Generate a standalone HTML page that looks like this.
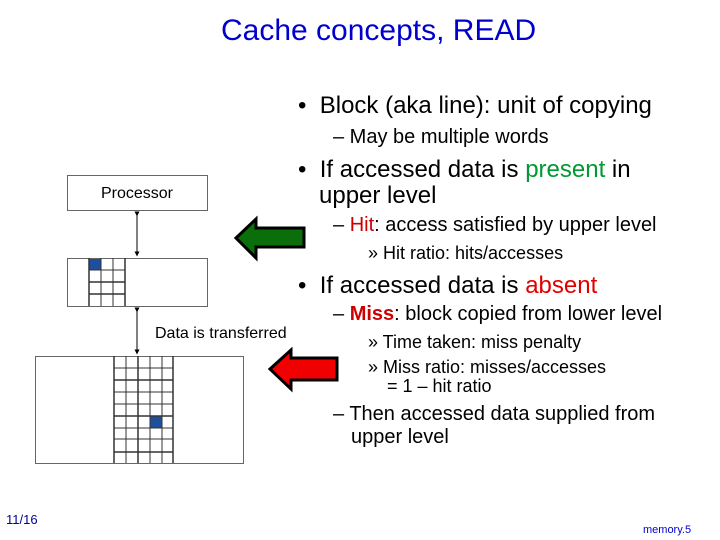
<!DOCTYPE html>
<html><head><style>
body{margin:0;width:720px;height:540px;background:#fff;position:relative;overflow:hidden;font-family:"Liberation Sans",sans-serif;}
.t{position:absolute;white-space:nowrap;color:#000;}
.r{color:#cc0000}
</style></head><body>
<svg width="720" height="540" style="position:absolute;left:0;top:0">
<defs><marker id="a" markerWidth="5" markerHeight="5" refX="2.5" refY="2.5" orient="auto"><path d="M0,0L5,2.5L0,5z" fill="#000"/></marker></defs>
<rect x="67.5" y="175.5" width="140" height="35" fill="#fff" stroke="#666"/>
<text x="137" y="198" font-family="Liberation Sans" font-size="16" text-anchor="middle">Processor</text>
<line x1="137" y1="214" x2="137" y2="254" stroke="#000" marker-start="url(#a)" marker-end="url(#a)"/>
<rect x="67.5" y="258.5" width="140" height="48" fill="#fff" stroke="#666"/>
<rect x="89" y="259" width="12" height="11" fill="#1f4e9c"/>
<g stroke="#333">
<line x1="89" y1="258" x2="89" y2="306" stroke-width="1.5"/><line x1="101" y1="258" x2="101" y2="306"/><line x1="113" y1="258" x2="113" y2="306"/><line x1="125" y1="258" x2="125" y2="306" stroke-width="1.5"/>
<line x1="89" y1="270" x2="125" y2="270"/><line x1="89" y1="282" x2="125" y2="282" stroke-width="1.5"/><line x1="89" y1="294" x2="125" y2="294" stroke-width="1.5"/>
</g>
<line x1="137" y1="310" x2="137" y2="352" stroke="#000" marker-start="url(#a)" marker-end="url(#a)"/>
<text x="155" y="338" font-family="Liberation Sans" font-size="16">Data is transferred</text>
<rect x="35.5" y="356.5" width="208" height="107" fill="#fff" stroke="#666"/>
<rect x="150" y="416" width="12" height="12" fill="#1f4e9c"/>
<g stroke="#333">
<line x1="114" y1="356" x2="114" y2="463" stroke-width="1.5"/><line x1="126" y1="356" x2="126" y2="463"/><line x1="138" y1="356" x2="138" y2="463" stroke-width="1.5"/><line x1="150" y1="356" x2="150" y2="463"/><line x1="162" y1="356" x2="162" y2="463"/><line x1="173" y1="356" x2="173" y2="463" stroke-width="1.5"/>
<line x1="114" y1="368" x2="173" y2="368"/><line x1="114" y1="380" x2="173" y2="380" stroke-width="1.5"/><line x1="114" y1="392" x2="173" y2="392"/><line x1="114" y1="404" x2="173" y2="404"/><line x1="114" y1="416" x2="173" y2="416" stroke-width="1.5"/><line x1="114" y1="428" x2="173" y2="428"/><line x1="114" y1="439" x2="173" y2="439"/><line x1="114" y1="452" x2="173" y2="452" stroke-width="1.5"/>
</g>
<path d="M236,238 L256,219 L256,228 L304,228 L304,247 L256,247 L256,258 Z" fill="#0a6e0a" stroke="#000" stroke-width="3" stroke-linejoin="miter"/>
<path d="M270,369 L291,350 L291,358 L337,358 L337,380 L291,380 L291,389 Z" fill="#f00000" stroke="#000" stroke-width="3"/>
</svg>
<div class="t" style="left:221px;top:14px;font-size:30px;color:#0000cc">Cache concepts, READ</div>
<div class="t" style="left:298px;top:92px;font-size:24px">•&nbsp; Block (aka line): unit of copying</div>
<div class="t" style="left:333px;top:126px;font-size:20px">– May be multiple words</div>
<div class="t" style="left:298px;top:157px;font-size:24px;line-height:26px">•&nbsp; If accessed data is <span style="color:#009933">present</span> in</div>
<div class="t" style="left:319px;top:183px;font-size:24px;line-height:26px">upper level</div>
<div class="t" style="left:333px;top:214px;font-size:20px">– <span class="r">Hit</span>: access satisfied by upper level</div>
<div class="t" style="left:368px;top:243px;font-size:18px">» Hit ratio: hits/accesses</div>
<div class="t" style="left:298px;top:272px;font-size:24px">•&nbsp; If accessed data is <span style="color:#e00000">absent</span></div>
<div class="t" style="left:333px;top:303px;font-size:20px">– <b class="r">Miss</b>: block copied from lower level</div>
<div class="t" style="left:368px;top:332px;font-size:18px">» Time taken: miss penalty</div>
<div class="t" style="left:368px;top:358px;font-size:18px;line-height:19px">» Miss ratio: misses/accesses</div>
<div class="t" style="left:387px;top:377px;font-size:18px;line-height:19px">= 1 – hit ratio</div>
<div class="t" style="left:333px;top:403px;font-size:20px;line-height:23px">– Then accessed data supplied from</div>
<div class="t" style="left:351px;top:426px;font-size:20px;line-height:23px">upper level</div>
<div class="t" style="left:6px;top:512px;font-size:13px;color:#000099">11/16</div>
<div class="t" style="left:643px;top:524px;font-size:11px;color:#0000cc">memory.5</div>
</body></html>
